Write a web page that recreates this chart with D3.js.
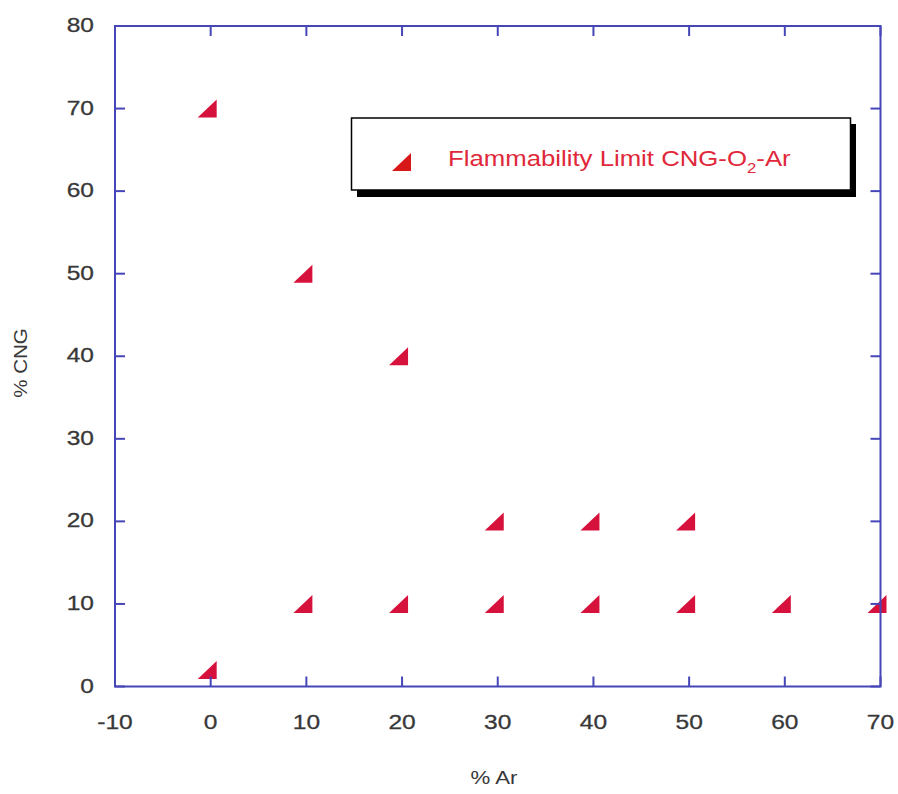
<!DOCTYPE html>
<html><head><meta charset="utf-8">
<script src="https://cdn.jsdelivr.net/npm/d3@7"></script>
<style>body{margin:0;background:#fff}svg{display:block}text{font-family:"Liberation Sans",Arial,sans-serif}</style>
</head><body>
<svg id="c" width="898" height="794"></svg>
<script>
const xTicks = [-10, 0, 10, 20, 30, 40, 50, 60, 70];
const yTicks = [0, 10, 20, 30, 40, 50, 60, 70, 80];
const arPct  = [0, 0, 10, 20, 30, 40, 50, 10, 20, 30, 40, 50, 60, 70];
const cngPct = [70, 2, 50, 40, 20, 20, 20, 10, 10, 10, 10, 10, 10, 10];
const seriesName = "Flammability Limit CNG-O";
const xTitle = "% Ar", yTitle = "% CNG";

const svg = d3.select("#c");
const L = 115, R = 880.5, T = 26, B = 686.5;
const x = d3.scaleLinear().domain([-10, 70]).range([L, R]);
const y = d3.scaleLinear().domain([0, 80]).range([B, T]);
const axisCol = "#4646b8", mk = "#d6123c", txt = "#383838";
const tri = (cx, cy) => `M${cx-13},${cy+9}L${cx+6},${cy+9}L${cx+6},${cy-9}Z`;
const SX = 1.17;

// markers
const pts = arPct.map((a, i) => ({a, c: cngPct[i]}));
svg.append("g").selectAll("path").data(pts).join("path")
  .attr("d", d => tri(x(d.a), y(d.c))).attr("fill", mk);

// frame & ticks
const g = svg.append("g").attr("stroke", axisCol).attr("stroke-width", 2).attr("fill", "none");
g.append("rect").attr("x", L).attr("y", T).attr("width", R - L).attr("height", B - T);
const tl = 10;
xTicks.forEach(t => {
  g.append("line").attr("x1", x(t)).attr("x2", x(t)).attr("y1", B).attr("y2", B - tl);
  g.append("line").attr("x1", x(t)).attr("x2", x(t)).attr("y1", T).attr("y2", T + tl);
});
yTicks.forEach(t => {
  g.append("line").attr("y1", y(t)).attr("y2", y(t)).attr("x1", L).attr("x2", L + tl);
  g.append("line").attr("y1", y(t)).attr("y2", y(t)).attr("x1", R).attr("x2", R - tl);
});

// tick labels
svg.append("g").selectAll("text").data(xTicks).join("text")
  .attr("transform", d => `translate(${x(d)},729) scale(${SX},1)`).attr("text-anchor", "middle")
  .attr("font-size", 21).attr("fill", txt).attr("stroke", txt).attr("stroke-width", 0.3).text(d => d);
svg.append("g").selectAll("text").data(yTicks).join("text")
  .attr("transform", d => `translate(94,${y(d) + 6}) scale(${SX},1)`).attr("text-anchor", "end")
  .attr("font-size", 21).attr("fill", txt).attr("stroke", txt).attr("stroke-width", 0.3).text(d => d);

// axis titles
svg.append("text").attr("transform", `translate(494,784) scale(${SX},1)`).attr("text-anchor", "middle")
  .attr("font-size", 19).attr("fill", txt).text(xTitle);
svg.append("text").attr("transform", `translate(27,363) rotate(-90) scale(1.08,1)`).attr("text-anchor", "middle")
  .attr("font-size", 19).attr("fill", txt).text(yTitle);

// legend
const lg = svg.append("g");
lg.append("rect").attr("x", 357).attr("y", 124).attr("width", 499).attr("height", 73).attr("fill", "#000");
lg.append("rect").attr("x", 351.5).attr("y", 118).attr("width", 499).attr("height", 72)
  .attr("fill", "#fff").attr("stroke", "#000").attr("stroke-width", 1.5);
lg.append("path").attr("d", tri(405, 162)).attr("fill", "#d81818");
const lt = lg.append("text").attr("transform", "translate(448,166) scale(1.12,1)")
  .attr("font-size", 23).attr("fill", "#e0283a");
lt.append("tspan").text(seriesName);
lt.append("tspan").attr("font-size", 15).attr("dy", 7).text("2");
lt.append("tspan").attr("dy", -7).text("-Ar");
</script>
</body></html>
